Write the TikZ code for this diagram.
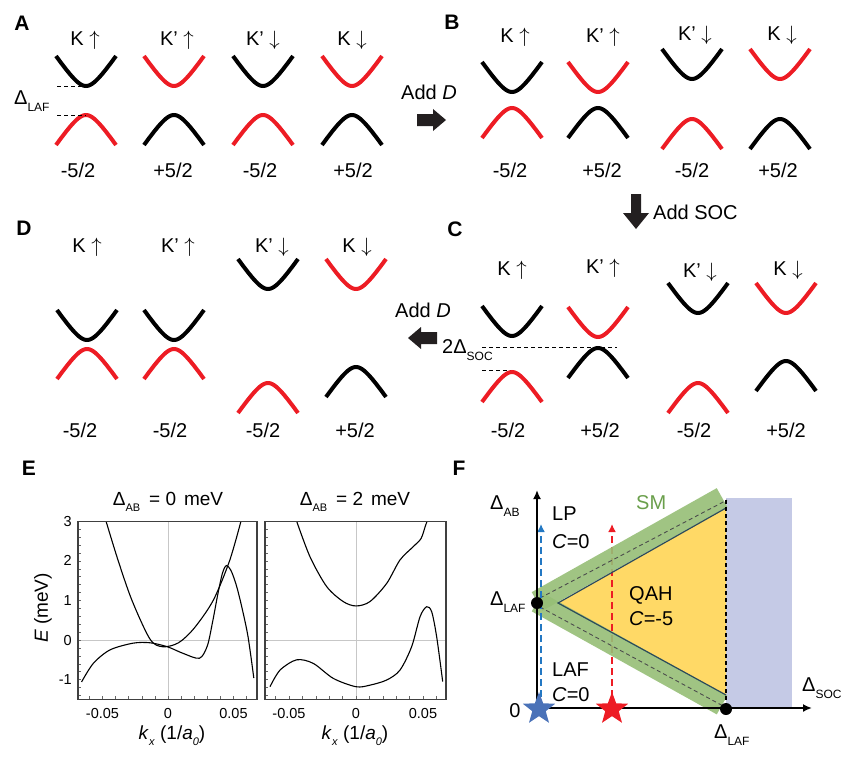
\documentclass[tikz,border=0pt]{standalone}
\usepackage{fontspec}
\setmainfont{Liberation Sans}
\usetikzlibrary{shapes.geometric,arrows.meta}

\definecolor{bandred}{RGB}{237,28,36}
\definecolor{smgreen}{RGB}{150,190,118}
\definecolor{smtext}{RGB}{106,159,75}
\definecolor{qahyellow}{RGB}{255,217,102}
\definecolor{socblue}{RGB}{197,202,230}
\definecolor{pathblue}{RGB}{35,120,195}
\definecolor{starblue}{RGB}{74,114,184}
\definecolor{arrowgrey}{RGB}{35,31,32}
\definecolor{edgeslate}{RGB}{45,75,90}

\newcommand{\lowsub}[2][12]{\raisebox{-0.6ex}{\fontsize{#1}{#1}\selectfont #2}}

\tikzset{
  band/.style={line width=4pt},
  cb/.pic={\draw[band] plot[domain=-30:30,samples=31,smooth] (\x,{-30*(sqrt(1+(\x/12)^2)-1)/1.6926});},
  vb/.pic={\draw[band] plot[domain=-30:30,samples=31,smooth] (\x,{30*(sqrt(1+(\x/12)^2)-1)/1.6926});},
  lab/.style={font=\fontsize{20}{24}\selectfont, inner sep=0pt},
  panel/.style={font=\fontsize{21}{24}\selectfont\bfseries, inner sep=0pt},
  fatarrow/.style={fill=arrowgrey},
  gap/.style={dashed, line width=1pt, dash pattern=on 4pt off 3pt},
  ticklab/.style={font=\fontsize{14.5}{16}\selectfont, inner sep=0pt},
  ttl/.style={font=\fontsize{19}{21}\selectfont, inner sep=0pt},
  frame/.style={line width=1.3pt, draw=black!75},
  gridline/.style={line width=0.5pt, draw=black!22},
  curve/.style={line width=1.1pt},
  minortick/.style={line width=0.4pt, draw=black!60},
  axis/.style={line width=1.8pt, -{Latex[length=9pt,width=8pt]}},
  path/.style={line width=1.8pt, dash pattern=on 7pt off 4pt, -{Latex[length=8pt,width=8pt]}},
  smband/.style={line width=21.5pt, draw=smgreen, opacity=0.9},
  phase/.style={font=\fontsize{20}{24}\selectfont, inner sep=0pt, anchor=west},
  starmark/.style={star, star points=5, star point ratio=2.4, minimum size=34pt, inner sep=0pt, draw=none},
  dot/.style={circle, fill=black, inner sep=0pt, minimum size=12pt}
}

\begin{document}
\begin{tikzpicture}[x=1pt,y=-1pt]
\useasboundingbox (0,0) rectangle (850,757);

%% panel A
\node[panel] (pA) at (22,23) {A};
\node[lab] (aK1) at (85,40) {K $\uparrow$};
\node[lab] (aK2) at (177,40) {K’ $\uparrow$};
\node[lab] (aK3) at (263,40) {K’ $\downarrow$};
\node[lab] (aK4) at (352,40) {K $\downarrow$};
\pic[color=black] at (86,86) {cb};
\pic[color=bandred] at (86,115) {vb};
\pic[color=bandred] at (174,86) {cb};
\pic[color=black] at (174,115) {vb};
\pic[color=black] at (263,86) {cb};
\pic[color=bandred] at (263,115) {vb};
\pic[color=bandred] at (352,86) {cb};
\pic[color=black] at (352,115) {vb};
\node[lab] (aN1) at (78,170) {-5/2};
\node[lab] (aN2) at (173,170) {+5/2};
\node[lab] (aN3) at (260,170) {-5/2};
\node[lab] (aN4) at (353,170) {+5/2};
\coordinate (aL1) at (57,87); \coordinate (aR1) at (86,87);
\coordinate (aL2) at (57,115); \coordinate (aR2) at (86,115);
\draw[gap] (aL1) -- (aR1);
\draw[gap] (aL2) -- (aR2);
\node[lab, anchor=west] (aDelta) at (14,101) {Δ\lowsub{LAF}};

%% A -> B
\node[lab] (addD1) at (429,92) {Add \textit{D}};
\fill[fatarrow] (417,114) -- (433,114) -- (433,109) -- (446,120) -- (433,131) -- (433,126) -- (417,126) -- cycle;

%% panel B
\node[panel] (pB) at (452,22) {B};
\node[lab] (bK1) at (515,37) {K $\uparrow$};
\node[lab] (bK2) at (603,37) {K’ $\uparrow$};
\node[lab] (bK3) at (695,35) {K’ $\downarrow$};
\node[lab] (bK4) at (782,35) {K $\downarrow$};
\pic[color=black] at (512,92) {cb};
\pic[color=bandred] at (512,108) {vb};
\pic[color=bandred] at (598,92) {cb};
\pic[color=black] at (598,108) {vb};
\pic[color=black] at (692,79) {cb};
\pic[color=bandred] at (692,119) {vb};
\pic[color=bandred] at (780,79) {cb};
\pic[color=black] at (780,119) {vb};
\node[lab] (bN1) at (510,170) {-5/2};
\node[lab] (bN2) at (602,170) {+5/2};
\node[lab] (bN3) at (692,170) {-5/2};
\node[lab] (bN4) at (778,170) {+5/2};

%% B -> C
\fill[fatarrow] (631,194) -- (641,194) -- (641,213) -- (649,213) -- (636,229) -- (623,213) -- (631,213) -- cycle;
\node[lab, anchor=west] (addSOC) at (653,212) {Add SOC};

%% panel C
\node[panel] (pC) at (455,229) {C};
\node[lab] (cK1) at (512,270) {K $\uparrow$};
\node[lab] (cK2) at (603,268) {K’ $\uparrow$};
\node[lab] (cK3) at (700,272) {K’ $\downarrow$};
\node[lab] (cK4) at (788,270) {K $\downarrow$};
\pic[color=black] at (512,336) {cb};
\pic[color=bandred] at (512,372) {vb};
\pic[color=bandred] at (598,337) {cb};
\pic[color=black] at (598,348) {vb};
\pic[color=black] at (698,313) {cb};
\pic[color=bandred] at (698,383) {vb};
\pic[color=bandred] at (786,313) {cb};
\pic[color=black] at (786,361) {vb};
\node[lab] (cN1) at (508,430) {-5/2};
\node[lab] (cN2) at (600,430) {+5/2};
\node[lab] (cN3) at (694,430) {-5/2};
\node[lab] (cN4) at (786,430) {+5/2};
\coordinate (cL1) at (482,347); \coordinate (cR1) at (617,347);
\coordinate (cL2) at (482,370); \coordinate (cR2) at (510,370);
\draw[gap] (cL1) -- (cR1);
\draw[gap] (cL2) -- (cR2);
\node[lab, anchor=west] (cDelta) at (442,350) {2Δ\lowsub{SOC}};

%% C -> D
\node[lab] (addD2) at (423,310) {Add \textit{D}};
\fill[fatarrow] (437,332) -- (421,332) -- (421,327) -- (408,338) -- (421,349) -- (421,344) -- (437,344) -- cycle;

%% panel D
\node[panel] (pD) at (24,228) {D};
\node[lab] (dK1) at (87,247) {K $\uparrow$};
\node[lab] (dK2) at (178,247) {K’ $\uparrow$};
\node[lab] (dK3) at (272,247) {K’ $\downarrow$};
\node[lab] (dK4) at (357,247) {K $\downarrow$};
\pic[color=black] at (87,340) {cb};
\pic[color=bandred] at (87,349) {vb};
\pic[color=black] at (174,340) {cb};
\pic[color=bandred] at (174,349) {vb};
\pic[color=black] at (268,289) {cb};
\pic[color=bandred] at (268,383) {vb};
\pic[color=bandred] at (356,289) {cb};
\pic[color=black] at (356,367) {vb};
\node[lab] (dN1) at (80,430) {-5/2};
\node[lab] (dN2) at (170,430) {-5/2};
\node[lab] (dN3) at (263,430) {-5/2};
\node[lab] (dN4) at (355,430) {+5/2};

%% panel E
\node[panel] (pE) at (29,468) {E};
\node[ttl] (eT1) at (168,502) {Δ\lowsub[11]{AB}\hspace{9pt}= 0\hspace{8pt}meV};
\node[ttl] (eT2) at (355,502) {Δ\lowsub[11]{AB}\hspace{9pt}= 2\hspace{8pt}meV};
\node[ttl, rotate=90] (eY) at (43,608) {\textit{E} (meV)};
\node[ttl] (eX1) at (172,736) {\textit{k}\lowsub[11]{\textit{x}} (1/\textit{a}\lowsub[11]{\textit{0}})};
\node[ttl] (eX2) at (355,736) {\textit{k}\lowsub[11]{\textit{x}} (1/\textit{a}\lowsub[11]{\textit{0}})};

\begin{scope}[xshift=168pt, yshift=-640pt, x=1310pt, y=39.6pt]
  \draw[gridline] (0,-1.5) -- (0,3);
  \draw[gridline] (-0.0687,0) -- (0.0679,0);
  \foreach \e in {-1.4,-1.2,...,2.9} \draw[minortick] (-0.0687,\e) -- ++(3pt,0);
  \foreach \k in {-0.06,-0.05,...,0.061} \draw[minortick] (\k,-1.5) -- ++(0,3pt);
  \draw[curve] plot[smooth] coordinates {(-0.0473,3) (-0.038,2) (-0.0275,1) (-0.0137,0.02)
    (-0.004,-0.17) (0.008,-0.07) (0.02,0.3) (0.0345,1) (0.047,2) (0.0557,3)};
  \draw[curve] plot[smooth] coordinates {(-0.066,-1.06) (-0.057,-0.59) (-0.0443,-0.25)
    (-0.0267,-0.08) (-0.0137,-0.07) (-0.0005,-0.17) (0.0117,-0.34) (0.024,-0.46)
    (0.03,-0.15) (0.034,0.45) (0.038,1.15) (0.0415,1.68) (0.0445,1.88) (0.048,1.76)
    (0.052,1.4) (0.056,0.88) (0.061,0.1) (0.0655,-0.96)};
  \draw[frame] (-0.0687,-1.5) rectangle (0.0679,3);
  \node[ticklab, left=6pt] (eL3) at (-0.0687,3) {3};
  \node[ticklab, left=6pt] (eL2) at (-0.0687,2) {2};
  \node[ticklab, left=6pt] (eL1) at (-0.0687,1) {1};
  \node[ticklab, left=6pt] (eL0) at (-0.0687,0) {0};
  \node[ticklab, left=6pt] (eLm) at (-0.0687,-1) {-1};
  \node[ticklab, below=9pt] (eB1) at (-0.05,-1.5) {-0.05};
  \node[ticklab, below=9pt] (eB2) at (0,-1.5) {0};
  \node[ticklab, below=9pt] (eB3) at (0.05,-1.5) {0.05};
\end{scope}

\begin{scope}[xshift=356pt, yshift=-640pt, x=1340pt, y=39.6pt]
  \draw[gridline] (0,-1.5) -- (0,3);
  \draw[gridline] (-0.0679,0) -- (0.0672,0);
  \foreach \e in {-1.4,-1.2,...,2.9} \draw[minortick] (-0.0679,\e) -- ++(3pt,0);
  \foreach \k in {-0.06,-0.05,...,0.061} \draw[minortick] (\k,-1.5) -- ++(0,3pt);
  \draw[curve] plot[smooth] coordinates {(-0.0443,3) (-0.0343,2.1) (-0.0219,1.35)
    (-0.0095,0.97) (0,0.86) (0.0104,0.97) (0.0229,1.43) (0.0328,2.02) (0.0428,2.36)
    (0.0485,2.56) (0.0515,2.85) (0.053,3)};
  \draw[curve] plot[smooth] coordinates {(-0.0642,-1.18) (-0.0567,-0.76) (-0.0443,-0.5)
    (-0.0319,-0.59) (-0.0169,-0.97) (0,-1.18) (0.0104,-1.14) (0.0229,-1.01)
    (0.0328,-0.76) (0.0415,-0.17) (0.0478,0.59) (0.0527,0.84) (0.0565,0.71)
    (0.0602,0.08) (0.0647,-1.05)};
  \draw[frame] (-0.0679,-1.5) rectangle (0.0672,3);
  \node[ticklab, below=9pt] (eC1) at (-0.05,-1.5) {-0.05};
  \node[ticklab, below=9pt] (eC2) at (0,-1.5) {0};
  \node[ticklab, below=9pt] (eC3) at (0.05,-1.5) {0.05};
\end{scope}

%% panel F
\node[panel] (pF) at (459,468) {F};
\coordinate (O) at (537,708);
\coordinate (ytip) at (537,490);
\coordinate (xtip) at (812,708);
\coordinate (dLAFy) at (537,603);
\coordinate (dLAFx) at (726,709);
\coordinate (tA) at (558,603);
\coordinate (tB) at (726,508);
\coordinate (tC) at (726,695);
\coordinate (up0) at (537,601.5);
\coordinate (up1) at (722,497.5);
\coordinate (lo0) at (537,602);
\coordinate (lo1) at (722,705);
\fill[socblue] (726,498) rectangle (792,708);
\fill[qahyellow] (tA) -- (tB) -- (tC) -- cycle;
\coordinate (redlo) at (612,708);
\coordinate (redhi) at (612,524);
\draw[path, bandred] (redlo) -- (redhi);
\draw[smband] (up0) -- (up1);
\draw[smband] (lo0) -- (lo1);
\draw[line width=1.2pt, edgeslate] (tB) -- (tA) -- (tC);
\draw[gap, line width=0.9pt, black!70] (540,598) -- (727,500);
\draw[gap, line width=0.9pt, black!70] (540,607) -- (725,707);
\draw[gap, line width=1.2pt] (726,500) -- (726,708);
\coordinate (bluelo) at (541,708);
\coordinate (bluehi) at (541,524);
\draw[path, pathblue] (bluelo) -- (bluehi);
\draw[axis] (O) -- (ytip);
\draw[axis] (O) -- (xtip);
\node[dot] (dotY) at (dLAFy) {};
\node[dot] (dotX) at (dLAFx) {};
\node[starmark, fill=starblue] (starB) at (539,709) {};
\node[starmark, fill=bandred] (starR) at (612,709) {};
\node[lab, anchor=west] (fAB) at (490,506) {Δ\lowsub{AB}};
\node[lab, anchor=west] (fLAF1) at (490,602) {Δ\lowsub{LAF}};
\node[lab] (fZero) at (515,711) {0};
\node[lab, anchor=west] (fSOC) at (802,688) {Δ\lowsub{SOC}};
\node[lab, anchor=west] (fLAF2) at (714,735) {Δ\lowsub{LAF}};
\node[phase] (fLP) at (552,514) {LP};
\node[phase] (fC1) at (552,542) {\textit{C}=0};
\node[phase, text=smtext] (fSM) at (636,503) {SM};
\node[phase] (fQAH) at (629,595) {QAH};
\node[phase] (fC2) at (629,619) {\textit{C}=-5};
\node[phase] (fLAF) at (552,670) {LAF};
\node[phase] (fC3) at (552,695) {\textit{C}=0};
\end{tikzpicture}
\end{document}
